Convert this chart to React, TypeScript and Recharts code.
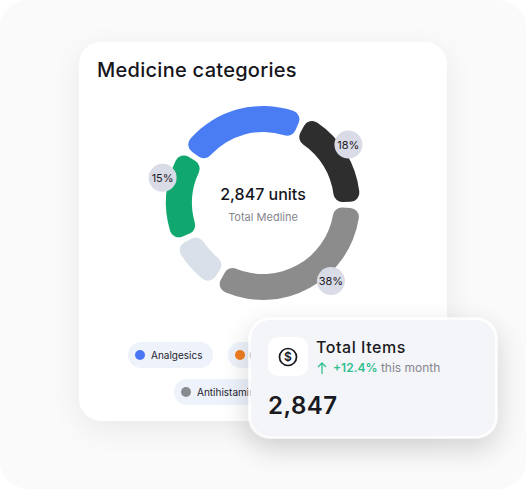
import React from 'react';
import { PieChart, Pie, Cell } from 'recharts';

const categories = ['Cardiac', 'Analgesics', 'Antibiotics', 'Vitamins', 'Antihistamines'];
const shares = [18, 23, 16, 9, 34];
const colors = ['#2e2e2e', '#4a7cf3', '#10a86f', '#d9e0e9', '#8c8c8c'];
const shareLabels = ['18%', '', '15%', '', '38%'];
const legendNames = ['Analgesics', 'Cardiovascular', 'Antihistamines'];
const legendColors = ['#4a78f5', '#f07d1f', '#888c8f'];

const FONT = 'Inter, "Noto Sans", sans-serif';

const pieData = categories.map((name, i) => ({ name, value: shares[i], label: shareLabels[i] }));

// badges do not sit on the slice middles in the original
const badgeShift = [3, 0, -9.5, 0, 12];

const renderBadge = (props: any) => {
  const { cx, cy, midAngle, outerRadius, index } = props;
  const text = shareLabels[index];
  if (!text) return null;
  const a = ((midAngle + badgeShift[index]) * Math.PI) / 180;
  const x = cx + (outerRadius + 6.5) * Math.cos(a);
  const y = cy - (outerRadius + 6.5) * Math.sin(a);
  return (
    <g key={`badge-${index}`}>
      <circle cx={x} cy={y} r={14} fill="#d9dbe6" />
      <text x={x} y={y + 4} textAnchor="middle" fontSize={11} fill="#1c1c28" fontFamily={FONT}>
        {text}
      </text>
    </g>
  );
};

const Chip = ({ name, color, left, top, width, gap = 6 }: { name: string; color: string; left: number; top: number; width: number; gap?: number }) => (
  <div
    style={{
      position: 'absolute', left, top, width, height: 26, borderRadius: 13, background: '#edf2fb',
      display: 'flex', alignItems: 'center', paddingLeft: 7, boxSizing: 'border-box', overflow: 'hidden',
    }}
  >
    <span style={{ width: 10, height: 10, borderRadius: 5, background: color, marginRight: gap, flexShrink: 0 }} />
    <span style={{ fontSize: 10, color: '#1f2430', whiteSpace: 'nowrap' }}>{name}</span>
  </div>
);

export default function App() {
  return (
    <div style={{ position: 'absolute', left: 0, top: 0, width: 526, height: 489, background: '#fff', overflow: 'hidden', fontFamily: FONT }}>
      <div style={{ position: 'absolute', left: 0, top: 0, width: 526, height: 489, background: '#fafafa', borderRadius: 28 }} />
      {/* main card */}
      <div
        style={{
          position: 'absolute', left: 79, top: 42, width: 368, height: 379, background: '#fff', borderRadius: 22,
          boxShadow: '0 8px 30px rgba(0,0,0,0.07)',
        }}
      />
      <div style={{ position: 'absolute', left: 97, top: 58, fontSize: 20, fontWeight: 500, color: '#15151c', letterSpacing: 0.28, whiteSpace: 'nowrap' }}>
        Medicine categories
      </div>
      <div style={{ position: 'absolute', left: 143, top: 83 }}>
        <PieChart width={240} height={240} margin={{ top: 0, right: 0, bottom: 0, left: 0 }}>
          <Pie
            data={pieData}
            dataKey="value"
            cx={120}
            cy={120}
            innerRadius={71}
            outerRadius={97}
            startAngle={0.8}
            endAngle={360.8}
            paddingAngle={4}
            cornerRadius={9}
            stroke="none"
            label={renderBadge}
            labelLine={false}
            isAnimationActive={false}
          >
            {pieData.map((d, i) => (
              <Cell key={d.name} fill={colors[i]} />
            ))}
          </Pie>
        </PieChart>
      </div>
      <div style={{ position: 'absolute', left: 163, width: 200, top: 184, textAlign: 'center', fontSize: 16, fontWeight: 500, color: '#15151c' }}>
        2,847 units
      </div>
      <div style={{ position: 'absolute', left: 163, width: 200, top: 210, textAlign: 'center', fontSize: 11, color: '#85858c' }}>
        Total Medline
      </div>
      <Chip name={legendNames[0]} color={legendColors[0]} left={128} top={342} width={85} />
      <Chip name={legendNames[1]} color={legendColors[1]} left={228} top={342} width={100} gap={4} />
      <Chip name={legendNames[2]} color={legendColors[2]} left={174} top={379} width={110} />
      {/* floating card, its white rim lets a little of the chips show through */}
      <div
        style={{
          position: 'absolute', left: 248, top: 317, width: 250, height: 122, background: '#f4f5f8', backgroundClip: 'padding-box', borderRadius: 22,
          border: '3px solid rgba(255,255,255,0.7)', boxSizing: 'border-box', boxShadow: '0 10px 28px rgba(0,0,0,0.16)',
        }}
      />
      <div style={{ position: 'absolute', left: 268, top: 337, width: 40, height: 39, background: '#fff', borderRadius: 10, display: 'flex', alignItems: 'center', justifyContent: 'center' }}>
        <svg width={20} height={20} viewBox="0 0 20 20">
          <circle cx={10} cy={10} r={8.5} fill="none" stroke="#15151c" strokeWidth={1.7} />
          <text x={10} y={14.3} textAnchor="middle" fontSize={12} fontWeight={600} fill="#15151c" fontFamily={FONT}>$</text>
        </svg>
      </div>
      <div style={{ position: 'absolute', left: 316, top: 337, fontSize: 16, fontWeight: 500, color: '#1a1a22', letterSpacing: 0.55, whiteSpace: 'nowrap' }}>Total Items</div>
      <svg style={{ position: 'absolute', left: 317, top: 361 }} width={10} height={14} viewBox="0 0 10 14">
        <path d="M5 13V2M1 6l4-4 4 4" fill="none" stroke="#2fbf8f" strokeWidth={1.3} />
      </svg>
      <div style={{ position: 'absolute', left: 333, top: 360, fontSize: 12, whiteSpace: 'nowrap', color: '#85858c' }}>
        <span style={{ color: '#2fbf8f', fontWeight: 600 }}>+12.4%</span> this month
      </div>
      <div style={{ position: 'absolute', left: 268, top: 391, fontSize: 24, fontWeight: 600, color: '#1a1a22', letterSpacing: 0.5 }}>2,847</div>
    </div>
  );
}
